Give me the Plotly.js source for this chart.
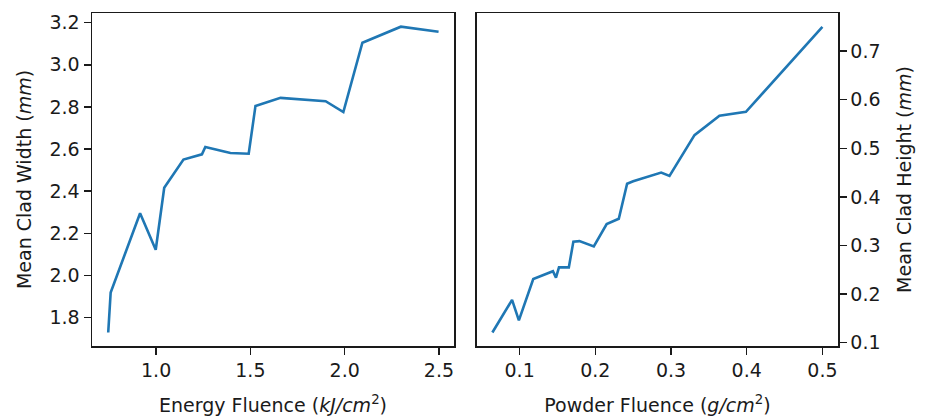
<!DOCTYPE html>
<html>
<head>
<meta charset="utf-8">
<script src="https://cdn.plot.ly/plotly-3.0.1.min.js"></script>
<style>html,body{margin:0;padding:0;background:#fff;}#chart{width:928px;height:419px;}</style>
</head>
<body>
<div id="chart"></div>
<script>
// Left panel: Energy Fluence vs Mean Clad Width
const energyFluence = [0.746, 0.759, 0.915, 0.998, 1.043, 1.145, 1.243, 1.261, 1.394, 1.491, 1.527, 1.660, 1.899, 1.993, 2.094, 2.298, 2.498];
const cladWidth     = [1.729, 1.919, 2.295, 2.122, 2.416, 2.550, 2.575, 2.610, 2.581, 2.578, 2.805, 2.843, 2.827, 2.776, 3.105, 3.181, 3.157];

// Right panel: Powder Fluence vs Mean Clad Height
const powderFluence = [0.064, 0.090, 0.099, 0.118, 0.144, 0.148, 0.152, 0.165, 0.171, 0.179, 0.198, 0.215, 0.231, 0.242, 0.250, 0.287, 0.298, 0.331, 0.364, 0.399, 0.500];
const cladHeight    = [0.121, 0.188, 0.146, 0.231, 0.247, 0.234, 0.255, 0.255, 0.308, 0.309, 0.298, 0.344, 0.355, 0.427, 0.432, 0.450, 0.443, 0.527, 0.567, 0.575, 0.750];

const leftXTicks = [1.0, 1.5, 2.0, 2.5];
const leftYTicks = [1.8, 2.0, 2.2, 2.4, 2.6, 2.8, 3.0, 3.2];
const rightXTicks = [0.1, 0.2, 0.3, 0.4, 0.5];
const rightYTicks = [0.1, 0.2, 0.3, 0.4, 0.5, 0.6, 0.7];

const lineColor = '#1f77b4';
const font = {family: 'DejaVu Sans', size: 19, color: '#1a1a1a'};

const traces = [
  {x: energyFluence, y: cladWidth, type: 'scatter', mode: 'lines',
   line: {color: lineColor, width: 2.6}, xaxis: 'x', yaxis: 'y', hoverinfo: 'skip'},
  {x: powderFluence, y: cladHeight, type: 'scatter', mode: 'lines',
   line: {color: lineColor, width: 2.6}, xaxis: 'x2', yaxis: 'y2', hoverinfo: 'skip'}
];

const axisCommon = {
  showgrid: false, zeroline: false, showline: true, mirror: true,
  linecolor: '#1a1a1a', linewidth: 1.5,
  ticks: 'outside', ticklen: 7, tickwidth: 1.4, tickcolor: '#1a1a1a',
  tickfont: font, tickformat: '.1f'
};

const layout = {
  width: 928, height: 419,
  margin: {l: 92, r: 90, t: 13, b: 73},
  paper_bgcolor: '#ffffff', plot_bgcolor: '#ffffff',
  showlegend: false,
  font: font,
  xaxis: Object.assign({}, axisCommon, {
    domain: [0, 0.4853], range: [0.66, 2.58], tickvals: leftXTicks, anchor: 'y',
    title: {text: 'Energy Fluence (<i>kJ/cm</i><sup>2</sup>)', font: font, standoff: 18}
  }),
  yaxis: Object.assign({}, axisCommon, {
    domain: [0, 1], range: [1.665, 3.246], tickvals: leftYTicks, anchor: 'x',
    title: {text: 'Mean Clad Width (<i>mm</i>)', font: font, standoff: 13}
  }),
  xaxis2: Object.assign({}, axisCommon, {
    domain: [0.516, 1], range: [0.0436, 0.5206], tickvals: rightXTicks, anchor: 'y2',
    title: {text: 'Powder Fluence (<i>g/cm</i><sup>2</sup>)', font: font, standoff: 18}
  }),
  yaxis2: Object.assign({}, axisCommon, {
    domain: [0, 1], range: [0.0932, 0.7784], tickvals: rightYTicks, anchor: 'x2', side: 'right',
    title: {text: 'Mean Clad Height (<i>mm</i>)', font: font, standoff: 18}
  })
};

Plotly.newPlot('chart', traces, layout, {staticPlot: true, displayModeBar: false});
</script>
</body>
</html>
